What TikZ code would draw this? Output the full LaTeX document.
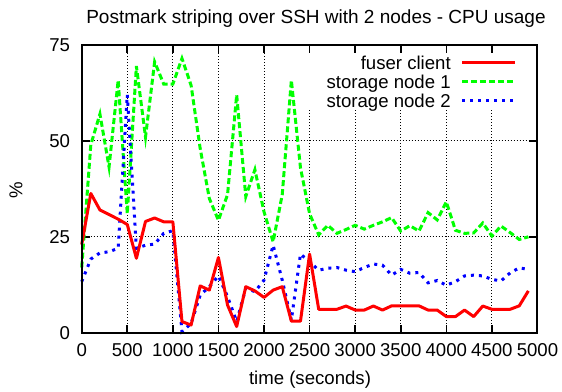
\documentclass[tikz,border=0pt]{standalone}
\usepackage{fontspec}
\setmainfont{Liberation Sans}
\begin{document}
\begin{tikzpicture}[x=1pt,y=1pt,font=\fontsize{18.6}{22}\selectfont]
\tikzset{
  gridline/.style={black, line width=0.9pt, dash pattern=on 1pt off 2pt},
  frameline/.style={black, line width=2pt},
  tickmark/.style={black, line width=1.6pt},
  clientline/.style={red, line width=3pt, line join=round},
  nodeoneline/.style={green, line width=3pt, dash pattern=on 6pt off 3pt},
  nodetwoline/.style={blue, line width=3pt, dash pattern=on 3pt off 5pt},
  lbl/.style={inner sep=0pt, outer sep=0pt},
}
% canvas
\useasboundingbox (0,0) rectangle (562,391);

% title and axis labels
\node[lbl, anchor=base, font=\fontsize{19}{22}\selectfont] (title) at (316,367) {Postmark striping over SSH with 2 nodes - CPU usage};
\node[lbl, anchor=base] (xaxislabel) at (310,7) {time (seconds)};
\node[lbl, rotate=90, anchor=center] (yaxislabel) at (16,201) {\%};

% plot area: time in seconds, load in percent
\begin{scope}[shift={(81.7,58.3)}, x=0.09116pt, y=3.836pt]
  % grid (vertical lines on the right stop below the key)
  \foreach \t in {500,1000,1500,2000}
    \draw[gridline] (\t,0) -- (\t,75);
  \foreach \t in {2500,3000,3500,4000,4500}
    \draw[gridline] (\t,0) -- (\t,58.1);
  \foreach \v in {25,50}
    \draw[gridline] (0,\v) -- (5000,\v);

  % tick marks on all four sides
  \foreach \t in {500,1000,...,4500} {
    \draw[tickmark] (\t,0) -- ++(0pt,8pt);
    \draw[tickmark] (\t,75) -- ++(0pt,-8pt);
  }
  \foreach \v in {25,50} {
    \draw[tickmark] (0,\v) -- ++(8pt,0pt);
    \draw[tickmark] (5000,\v) -- ++(-8pt,0pt);
  }

  % tick labels
  \foreach \t in {0,500,...,5000}
    \node[lbl, anchor=base, yshift=-23.9pt] (xlab\t) at (\t,0) {\t};
  \foreach \v in {0,25,50,75}
    \node[lbl, anchor=base east, xshift=-11.7pt, yshift=-6.65pt] (ylab\v) at (0,\v) {\v};

  % storage node 1
  \draw[nodeoneline] plot coordinates {
    (0,17) (100,49) (200,57) (300,43.2) (400,65.8) (500,31) (600,69.5)
    (700,51) (800,70.6) (900,64.8) (1000,64.8) (1100,71.5) (1200,64.5)
    (1300,48) (1400,35) (1500,29.3) (1600,36) (1700,62) (1800,35.5)
    (1900,42.5) (2000,31.5) (2100,23.7) (2200,36) (2300,65.8) (2400,43)
    (2500,31) (2600,25.5) (2700,28) (2800,25.9) (2900,26.9) (3000,28)
    (3100,27) (3200,28) (3300,28.9) (3400,30) (3500,26.5) (3600,27.9)
    (3700,26.5) (3800,31.3) (3900,29.4) (4000,34.1) (4100,26.7) (4200,25.9)
    (4300,26) (4400,28.6) (4500,25.2) (4600,27.8) (4700,26.1) (4800,24.3)
    (4900,25)};

  % storage node 2
  \draw[nodetwoline] plot coordinates {
    (0,13.3) (100,19.2) (200,20.8) (300,21.1) (400,22) (500,62) (600,22)
    (700,22.8) (800,23.1) (900,25.9) (1000,26.6) (1100,0.3) (1200,2.4)
    (1300,9.8) (1400,12) (1500,14.8) (1600,9.4) (1700,2.9) (1800,11.6)
    (1900,10.7) (2000,13.7) (2100,22.8) (2200,13.7) (2300,3.3) (2400,20.5)
    (2500,18.5) (2600,16.3) (2700,16.8) (2800,17) (2900,16.3) (3000,15.9)
    (3100,17) (3200,17.9) (3300,17.6) (3400,15) (3500,16.5) (3600,15.5)
    (3700,15.7) (3800,13) (3900,13.6) (4000,12.4) (4100,13.3) (4200,14.8)
    (4300,15) (4400,14.8) (4500,13.9) (4600,13.5) (4700,15.6) (4800,16.9)
    (4900,16.5)};

  % fuser client
  \draw[clientline] plot coordinates {
    (0,23) (100,36.3) (200,32) (300,30.8) (400,29.6) (500,28.2) (600,19.4)
    (700,29) (800,29.9) (900,28.9) (1000,28.9) (1100,2.9) (1200,2.0)
    (1300,12.2) (1400,11.1) (1500,19.6) (1600,7.2) (1700,1.6) (1800,12)
    (1900,10.9) (2000,9.2) (2100,11.1) (2200,12) (2300,3) (2400,3)
    (2500,20.5) (2600,6.1) (2700,6.1) (2800,6.1) (2900,6.95) (3000,5.9)
    (3100,5.9) (3200,6.95) (3300,5.9) (3400,7) (3500,7) (3600,7) (3700,7)
    (3800,5.9) (3900,5.9) (4000,4.2) (4100,4.2) (4200,5.9) (4300,4.2)
    (4400,6.95) (4500,6.1) (4600,6.1) (4700,6.1) (4800,7) (4900,10.9)};

  % frame
  \draw[frameline] (0,0) rectangle (5000,75);
\end{scope}

% key
\node[lbl, anchor=base east] (keyclient) at (450.7,321.7) {fuser client};
\node[lbl, anchor=base east] (keynodeone) at (450.7,302.7) {storage node 1};
\node[lbl, anchor=base east] (keynodetwo) at (450.7,283.7) {storage node 2};
\draw[clientline] (462.3,328.3) -- (515,328.3);
\draw[nodeoneline] (462.3,309.3) -- (515,309.3);
\draw[nodetwoline] (462.3,290.3) -- (515,290.3);
\end{tikzpicture}
\end{document}
